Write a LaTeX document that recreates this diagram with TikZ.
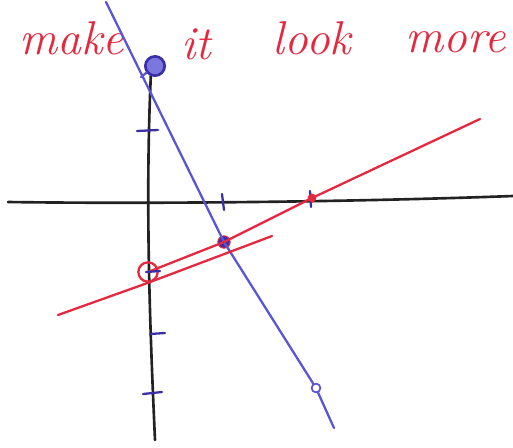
\documentclass[tikz,border=0pt]{standalone}
\usetikzlibrary{arrows.meta,positioning}
\definecolor{rojo}{HTML}{E4283F}
\definecolor{azul}{HTML}{5B55D6}
\definecolor{morado}{HTML}{3A2FA6}
\definecolor{tinta}{HTML}{222222}

\begin{document}
\begin{tikzpicture}[x=0.02cm,y=-0.02cm,line cap=round,line join=round,
  eje/.style={draw=tinta,line width=1.5pt},
  raya/.style={draw=morado,line width=1.3pt},
  recta/.style={line width=1.3pt},
  pto/.style={circle,inner sep=0pt,minimum size=#1},
  txt/.style={text=rojo,font=\fontsize{27}{29}\selectfont\itshape,inner sep=0pt}]
\useasboundingbox (0,0) rectangle (513,447);
% texto
\node[txt] (w1) at (72,38) {make};
\node[txt] (w2) at (196,44) {it};
\node[txt] (w3) at (312,38) {look};
\node[txt] (w4) at (456,42) {more};
% ejes
\coordinate (xi) at (8,202); \coordinate (xd) at (513,196);
\coordinate (ya) at (151,72); \coordinate (yb) at (155,440);
\draw[eje] (xi) .. controls (150,204) and (350,202) .. (xd);
\draw[eje] (ya) .. controls (145,200) and (150,330) .. (yb);
% marcas
\draw[raya] (137,131) -- (158,130);
\draw[raya] (150,334) -- (165,333);
\draw[raya] (143,394) -- (162,392);
\draw[raya] (222,194) -- (224,210);
\draw[raya] (310,191) -- (311,207);
\draw[tinta,line width=1.2pt] (148,238) -- (149,243);
\draw[tinta,line width=1.2pt] (150,108) -- (150,112);
% puntos
\node[pto=11pt,draw=morado,fill=azul!80,line width=1.5pt] (p1) at (155,66) {};
\node[pto=7pt,fill=morado,draw=rojo,line width=0.6pt] (p2) at (224,242) {};
\node[pto=5pt,draw=azul,line width=1pt] (p3) at (316,388) {};
\node[pto=11pt,draw=rojo,line width=1.3pt] (p4) at (148,272) {};
\node[pto=5pt,fill=rojo] (p5) at (312,198) {};
% rectas
\coordinate (b0) at (106,2); \coordinate (b1) at (334,428);
\coordinate (r0) at (58,315); \coordinate (r1) at (480,119);
\coordinate (r2) at (272,236);
\draw[recta,azul] (b0) -- (p2.center) -- (p3) -- (b1);
\draw[recta,azul] (p1) -- (141,77);
\draw[recta,rojo] (p4.center) -- (p2.center) -- (p5.center) -- (r1);
\draw[recta,rojo] (r0) -- (p4.south) -- (r2);
\draw[raya] (146,272) -- (160,271);
\end{tikzpicture}
\end{document}
